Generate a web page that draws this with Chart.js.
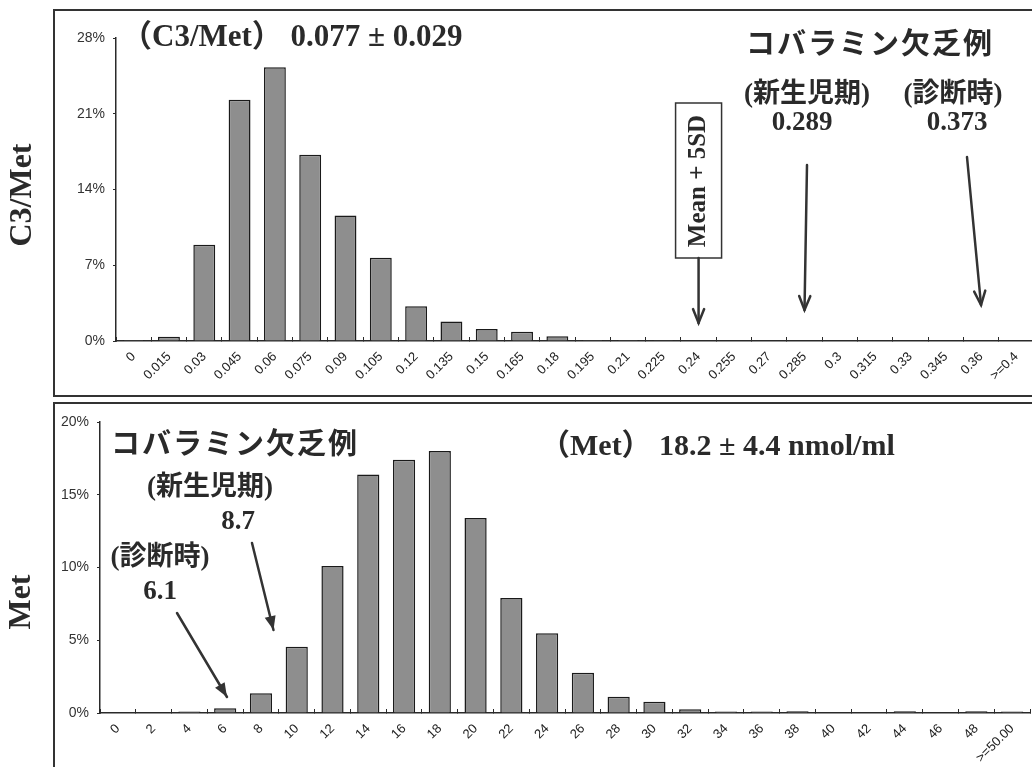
<!DOCTYPE html>
<html>
<head>
<meta charset="utf-8">
<script src="https://cdn.jsdelivr.net/npm/chart.js@4.4.1/dist/chart.umd.min.js"></script>
<style>
  html, body { margin: 0; padding: 0; background: #fff; overflow: hidden; }
  .panel { position: absolute; left: 0; width: 1040px; }
  #boxTop { top: 0; height: 399px; }
  #boxBot { top: 399px; height: 368px; }
</style>
</head>
<body>
<div class="panel" id="boxTop"><canvas id="chartC3"></canvas></div>
<div class="panel" id="boxBot"><canvas id="chartMet"></canvas></div>
<script>
// C3/Met histogram (percent of cases per bin)
const c3Labels = ["0", "0.015", "0.03", "0.045", "0.06", "0.075", "0.09", "0.105", "0.12", "0.135",
  "0.15", "0.165", "0.18", "0.195", "0.21", "0.225", "0.24", "0.255", "0.27", "0.285",
  "0.3", "0.315", "0.33", "0.345", "0.36", ">=0.4"];
const c3Values = [0.1, 0.4, 8.9, 22.3, 25.3, 17.2, 11.6, 7.7, 3.2, 1.8,
  1.1, 0.85, 0.45, 0.1, 0.1, 0.08, 0, 0, 0, 0,
  0, 0, 0, 0, 0, 0];
const c3Ticks = [0, 7, 14, 21, 28];

// Met histogram (nmol/ml)
const metLabels = ["0", "2", "4", "6", "8", "10", "12", "14", "16", "18", "20", "22", "24",
  "26", "28", "30", "32", "34", "36", "38", "40", "42", "44", "46", "48", ">=50.00"];
const metValues = [0, 0, 0.1, 0.32, 1.35, 4.56, 10.1, 16.4, 17.4, 18.0, 13.4, 7.9, 5.48,
  2.77, 1.12, 0.78, 0.25, 0.1, 0.1, 0.12, 0, 0, 0.12, 0, 0.12, 0.1];
const metTicks = [0, 5, 10, 15, 20];

const INK = '#2a2a2a';
const serifBold = size => `bold ${size}px "Liberation Serif", "Noto Sans CJK JP", serif`;
const jpBold = size => `bold ${size}px "Noto Sans CJK JP", sans-serif`;

function say(ctx, str, x, y, font, align, rot, spacing) {
  ctx.save();
  ctx.font = font;
  ctx.fillStyle = INK;
  ctx.textAlign = align || 'center';
  ctx.textBaseline = 'middle';
  if (spacing) ctx.letterSpacing = spacing;
  ctx.translate(x, y);
  if (rot) ctx.rotate(rot);
  ctx.fillText(str, 0, 0);
  ctx.restore();
}

function arrow(ctx, x1, y1, x2, y2, open) {
  const a = Math.atan2(y2 - y1, x2 - x1);
  const len = 15, spread = 0.38;
  ctx.save();
  ctx.strokeStyle = '#333';
  ctx.fillStyle = '#333';
  ctx.lineWidth = 2.5;
  ctx.lineCap = 'round';
  ctx.beginPath();
  ctx.moveTo(x1, y1);
  ctx.lineTo(x2, y2);
  ctx.stroke();
  const ax = x2 - len * Math.cos(a - spread), ay = y2 - len * Math.sin(a - spread);
  const bx = x2 - len * Math.cos(a + spread), by = y2 - len * Math.sin(a + spread);
  ctx.beginPath();
  ctx.moveTo(ax, ay);
  ctx.lineTo(x2, y2);
  ctx.lineTo(bx, by);
  if (open) { ctx.stroke(); } else { ctx.closePath(); ctx.fill(); }
  ctx.restore();
}

function frame(ctx, x, y, w, h) {
  ctx.save();
  ctx.strokeStyle = '#333';
  ctx.lineWidth = 2;
  ctx.strokeRect(x, y, w, h);
  ctx.restore();
}

function histogram(canvasId, labels, values, yTicks, geo, annotate) {
  return new Chart(document.getElementById(canvasId), {
    type: 'bar',
    data: {
      labels: labels,
      datasets: [{
        data: values,
        backgroundColor: '#8e8e8e',
        borderColor: '#1a1a1a',
        borderWidth: 1.5,
        barPercentage: 0.62,
        categoryPercentage: 1
      }]
    },
    options: {
      responsive: true,
      maintainAspectRatio: false,
      animation: false,
      layout: { padding: { top: geo.top, right: geo.right, left: 0, bottom: 0 } },
      plugins: { legend: { display: false }, tooltip: { enabled: false } },
      scales: {
        x: {
          grid: { display: true, drawOnChartArea: false, offset: true, tickLength: -4, color: INK },
          border: { display: true, color: INK, width: 1.5 },
          ticks: {
            color: '#222', autoSkip: false, maxRotation: 45, minRotation: 45, padding: 12,
            font: { family: 'Liberation Sans', size: 13 }
          },
          afterFit: s => { s.height = geo.xHeight; }
        },
        y: {
          min: 0,
          max: yTicks[yTicks.length - 1],
          grid: { display: true, drawOnChartArea: false, tickLength: 3, color: INK },
          border: { display: true, color: INK, width: 1.5 },
          ticks: {
            color: '#333', padding: 8,
            font: { family: 'Liberation Sans', size: 14 },
            callback: v => v + '%'
          },
          afterBuildTicks: s => { s.ticks = yTicks.map(v => ({ value: v })); },
          afterFit: s => { s.width = geo.yWidth; }
        }
      }
    },
    plugins: [{ id: 'notes', afterDraw: chart => annotate(chart) }]
  });
}

histogram('chartC3', c3Labels, c3Values, c3Ticks,
  { top: 38, right: 6, yWidth: 116, xHeight: 58 },
  chart => {
    const ctx = chart.ctx, xs = chart.scales.x;
    const at = lbl => xs.getPixelForValue(c3Labels.indexOf(lbl));
    frame(ctx, 54, 10, 1100, 386);
    say(ctx, 'C3/Met', 23, 195, serifBold(32), 'center', -Math.PI / 2);
    say(ctx, '（C3/Met） 0.077 ± 0.029', 121, 38, serifBold(31), 'left');
    say(ctx, 'コバラミン欠乏例', 870, 43, jpBold(29), 'center', 0, '2px');
    say(ctx, '(新生児期)', 807, 95, serifBold(27));
    say(ctx, '0.289', 802, 123, serifBold(27));
    say(ctx, '(診断時)', 953, 95, serifBold(27));
    say(ctx, '0.373', 957, 123, serifBold(27));
    // Mean + 5SD box
    const mx = at('0.24');
    ctx.save();
    ctx.strokeStyle = '#333';
    ctx.lineWidth = 1.5;
    ctx.strokeRect(mx - 23, 103, 46, 155);
    ctx.restore();
    say(ctx, 'Mean + 5SD', mx, 181, serifBold(25), 'center', -Math.PI / 2);
    arrow(ctx, mx, 258, mx, 323, true);
    arrow(ctx, 807, 165, at('0.285'), 310, true);
    arrow(ctx, 967, 157, at('0.36'), 305, true);
  });

histogram('chartMet', metLabels, metValues, metTicks,
  { top: 23, right: 10, yWidth: 100, xHeight: 54 },
  chart => {
    const ctx = chart.ctx, xs = chart.scales.x;
    const at = v => xs.getPixelForValue(v / 2);
    frame(ctx, 54, 4, 1100, 500);
    say(ctx, 'Met', 22, 203, serifBold(32), 'center', -Math.PI / 2);
    say(ctx, 'コバラミン欠乏例', 235, 44, jpBold(29), 'center', 0, '2px');
    say(ctx, '(新生児期)', 210, 89, serifBold(27));
    say(ctx, '8.7', 238, 123, serifBold(27));
    say(ctx, '(診断時)', 160, 159, serifBold(27));
    say(ctx, '6.1', 160, 193, serifBold(27));
    say(ctx, '（Met） 18.2 ± 4.4 nmol/ml', 540, 48, serifBold(30), 'left');
    arrow(ctx, 252, 144, at(8.7), 231, false);
    arrow(ctx, 177, 214, at(6.1), 298, false);
  });
</script>
</body>
</html>
